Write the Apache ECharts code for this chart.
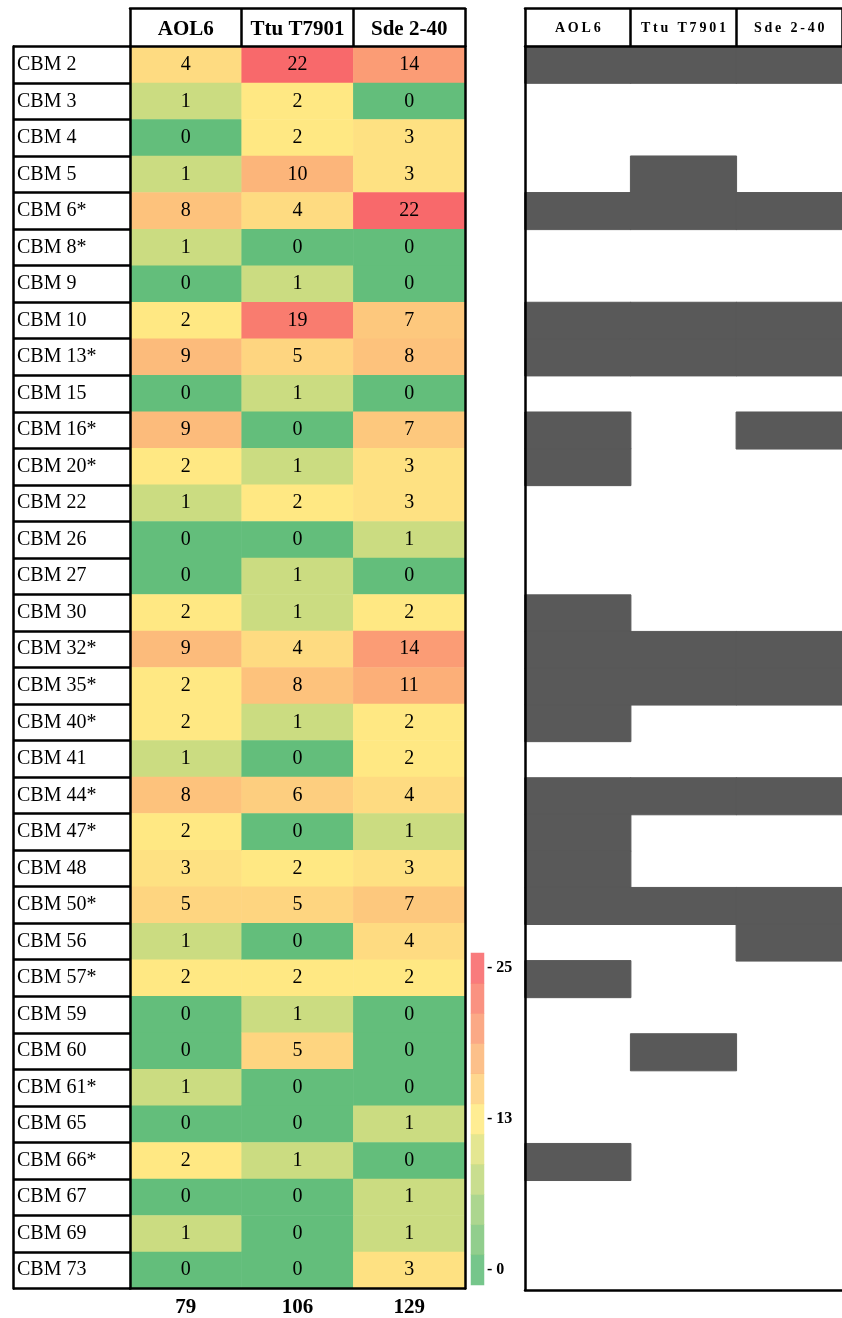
<!DOCTYPE html>
<html>
<head>
<meta charset="utf-8">
<title>CBM module counts</title>
<script src="https://cdn.jsdelivr.net/npm/echarts@6/dist/echarts.min.js"></script>
<style>
  html, body { margin: 0; padding: 0; background: #fff; }
  #chart { width: 842px; height: 1318px; }
</style>
</head>
<body>
<div id="chart"></div>
<script>
// Strains (columns)
const strains = ['AOL6', 'Ttu T7901', 'Sde 2-40'];

// CBM families (rows), asterisk marks as in the table
const modules = ['CBM2', 'CBM3', 'CBM4', 'CBM5', 'CBM6*', 'CBM8*', 'CBM9', 'CBM10', 'CBM13*',
  'CBM15', 'CBM16*', 'CBM20*', 'CBM22', 'CBM26', 'CBM27', 'CBM30', 'CBM32*', 'CBM35*',
  'CBM40*', 'CBM41', 'CBM44*', 'CBM47*', 'CBM48', 'CBM50*', 'CBM56', 'CBM57*', 'CBM59',
  'CBM60', 'CBM61*', 'CBM65', 'CBM66*', 'CBM67', 'CBM69', 'CBM73'];

// Module counts per strain
const aol6Counts = [4, 1, 0, 1, 8, 1, 0, 2, 9, 0, 9, 2, 1, 0, 0, 2, 9, 2, 2, 1, 8, 2, 3, 5, 1, 2, 0, 0, 1, 0, 2, 0, 1, 0];
const ttuCounts  = [22, 2, 2, 10, 4, 0, 1, 19, 5, 1, 0, 1, 2, 0, 1, 1, 4, 8, 1, 0, 6, 0, 2, 5, 0, 2, 1, 5, 0, 0, 1, 0, 0, 0];
const sdeCounts  = [14, 0, 3, 3, 22, 0, 0, 7, 8, 0, 7, 3, 3, 1, 0, 2, 14, 11, 2, 2, 4, 1, 3, 7, 4, 2, 0, 0, 0, 1, 0, 1, 1, 3];

// Presence (1) / absence (0) in the right-hand panel
const aol6Present = [1, 0, 0, 0, 1, 0, 0, 1, 1, 0, 1, 1, 0, 0, 0, 1, 1, 1, 1, 0, 1, 1, 1, 1, 0, 1, 0, 0, 0, 0, 1, 0, 0, 0];
const ttuPresent  = [1, 0, 0, 1, 1, 0, 0, 1, 1, 0, 0, 0, 0, 0, 0, 0, 1, 1, 0, 0, 1, 0, 0, 1, 0, 0, 0, 1, 0, 0, 0, 0, 0, 0];
const sdePresent  = [1, 0, 0, 0, 1, 0, 0, 1, 1, 0, 1, 0, 0, 0, 0, 0, 1, 1, 0, 0, 1, 0, 0, 1, 1, 0, 0, 0, 0, 0, 0, 0, 0, 0];

// Colour-bar bands (bottom to top) and their tick labels
const legendBands  = [0, 2.5, 5, 7.5, 10, 12.5, 15, 17.5, 20, 22.5, 25];
const legendLabels = ['0', '', '', '', '', '13', '', '', '', '', '25'];

const countCols = [aol6Counts, ttuCounts, sdeCounts];
const presentCols = [aol6Present, ttuPresent, sdePresent];
const totals = countCols.map(c => c.reduce((a, b) => a + b, 0));

// Three-colour scale: green -> yellow -> red
const GREEN = [99, 190, 123], YELLOW = [255, 235, 132], RED = [248, 105, 107];
function mix(a, b, t) {
  const c = a.map((x, i) => Math.round(x + (b[i] - x) * t));
  return 'rgb(' + c.join(',') + ')';
}
function scale3(v, lo, mid, hi) {
  if (v <= mid) return mix(GREEN, YELLOW, (v - lo) / (mid - lo));
  return mix(YELLOW, RED, (v - mid) / (hi - mid));
}
const cellMin = 0, cellMid = 1.5, cellMax = 22;
const cellStops = [];
for (let k = 0; k <= (cellMax - cellMin) * 2; k++) cellStops.push(scale3(cellMin + k / 2, cellMin, cellMid, cellMax));

const cellData = [];
countCols.forEach((col, x) => col.forEach((v, y) => cellData.push([x, y, v])));
const presData = [];
presentCols.forEach((col, x) => col.forEach((v, y) => { if (v) presData.push([x, y, v]); }));
const legendData = legendBands.map((v, i) => [0, i, v]);

const SERIF = "'Liberation Serif', 'Times New Roman', serif";
const LINE = { color: '#000', width: 2.5 };
const HEADER_H = 38.5;
const PRESENT = '#595959';
const spaced = s => s.split('').join('\u2009');

const chart = echarts.init(document.getElementById('chart'), null, { renderer: 'canvas' });
chart.setOption({
  animation: false,
  backgroundColor: '#fff',
  grid: [
    { left: 130, top: 46.5, width: 335, height: 1243.5 },
    { left: 525, top: 46.5, width: 317, height: 1243.5 },
    { left: 471, top: 953, width: 13, height: 332 }
  ],
  xAxis: [
    { // header boxes, left table
      type: 'category', gridIndex: 0, position: 'top', data: strains, z: 10,
      axisLine: { show: true, lineStyle: LINE },
      axisTick: { show: true, interval: 0, length: HEADER_H, lineStyle: LINE },
      axisLabel: { interval: 0, margin: 17, verticalAlign: 'middle', color: '#000',
        fontFamily: SERIF, fontWeight: 'bold', fontSize: 21 },
      splitLine: { show: false }
    },
    { // top rule of the header
      type: 'category', gridIndex: 0, position: 'top', offset: HEADER_H, data: strains, z: 10,
      axisLine: { show: true, lineStyle: LINE }, axisTick: { show: false }, axisLabel: { show: false }
    },
    { // bottom rule and column totals
      type: 'category', gridIndex: 0, position: 'bottom', data: strains, z: 10,
      axisLine: { show: true, lineStyle: LINE }, axisTick: { show: false },
      axisLabel: { interval: 0, margin: 19, verticalAlign: 'middle', color: '#000',
        fontFamily: SERIF, fontWeight: 'bold', fontSize: 21,
        formatter: (v, i) => String(totals[i]) }
    },
    { // header boxes, presence panel
      type: 'category', gridIndex: 1, position: 'top', data: strains, z: 10,
      axisLine: { show: true, lineStyle: LINE },
      axisTick: { show: true, interval: 0, length: HEADER_H, lineStyle: LINE },
      axisLabel: { interval: 0, margin: 18, verticalAlign: 'middle', color: '#000',
        fontFamily: SERIF, fontWeight: 'bold', fontSize: 14, formatter: v => spaced(v) }
    },
    {
      type: 'category', gridIndex: 1, position: 'top', offset: HEADER_H, data: strains, z: 10,
      axisLine: { show: true, lineStyle: LINE }, axisTick: { show: false }, axisLabel: { show: false }
    },
    {
      type: 'category', gridIndex: 1, position: 'bottom', data: strains, z: 10,
      axisLine: { show: true, lineStyle: LINE }, axisTick: { show: false }, axisLabel: { show: false }
    },
    { // colour bar
      type: 'category', gridIndex: 2, data: [''], show: false
    }
  ],
  yAxis: [
    { // row labels with ruled cells
      type: 'category', gridIndex: 0, data: modules, inverse: true, z: 10,
      axisLine: { show: true, lineStyle: LINE },
      axisTick: { show: true, interval: 0, length: 117, lineStyle: LINE },
      axisLabel: { interval: 0, margin: 113, align: 'left', color: '#000',
        fontFamily: SERIF, fontSize: 20, formatter: v => v.replace(/^CBM/, 'CBM ') }
    },
    { // outer left rule
      type: 'category', gridIndex: 0, data: modules, inverse: true, position: 'left', offset: 117, z: 10,
      axisLine: { show: true, lineStyle: LINE }, axisTick: { show: false }, axisLabel: { show: false }
    },
    { // right rule of the table
      type: 'category', gridIndex: 0, data: modules, inverse: true, position: 'right', z: 10,
      axisLine: { show: true, lineStyle: LINE }, axisTick: { show: false }, axisLabel: { show: false }
    },
    { // presence panel rows
      type: 'category', gridIndex: 1, data: modules, inverse: true, z: 10,
      axisLine: { show: true, lineStyle: LINE }, axisTick: { show: false }, axisLabel: { show: false }
    },
    { // colour bar ticks
      type: 'category', gridIndex: 2, data: legendBands.map(String), position: 'right',
      axisLine: { show: false }, axisTick: { show: false },
      axisLabel: { interval: 0, margin: 3, align: 'left', color: '#000',
        fontFamily: SERIF, fontWeight: 'bold', fontSize: 16,
        formatter: (v, i) => legendLabels[i] ? '- ' + legendLabels[i] : '' }
    }
  ],
  visualMap: [
    { type: 'continuous', seriesIndex: 0, show: false, min: cellMin, max: cellMax,
      inRange: { color: cellStops } },
    { type: 'continuous', seriesIndex: 1, show: false, min: 0, max: 25,
      inRange: { color: [mix(GREEN, GREEN, 0), mix(YELLOW, YELLOW, 0), mix(RED, RED, 0)] } },
    { type: 'continuous', seriesIndex: 2, show: false, min: 0, max: 1,
      inRange: { color: [PRESENT, PRESENT] } }
  ],
  series: [
    {
      type: 'heatmap', xAxisIndex: 0, yAxisIndex: 0, data: cellData,
      label: { show: true, color: '#000', fontFamily: SERIF, fontSize: 20,
        formatter: p => String(p.value[2]) },
      emphasis: { disabled: true }
    },
    {
      type: 'heatmap', xAxisIndex: 6, yAxisIndex: 4, data: legendData,
      itemStyle: { opacity: 0.88 },
      emphasis: { disabled: true }
    },
    {
      type: 'heatmap', xAxisIndex: 3, yAxisIndex: 3, data: presData,
      itemStyle: { borderColor: PRESENT, borderWidth: 1 },
      emphasis: { disabled: true }
    }
  ]
});
</script>
</body>
</html>
